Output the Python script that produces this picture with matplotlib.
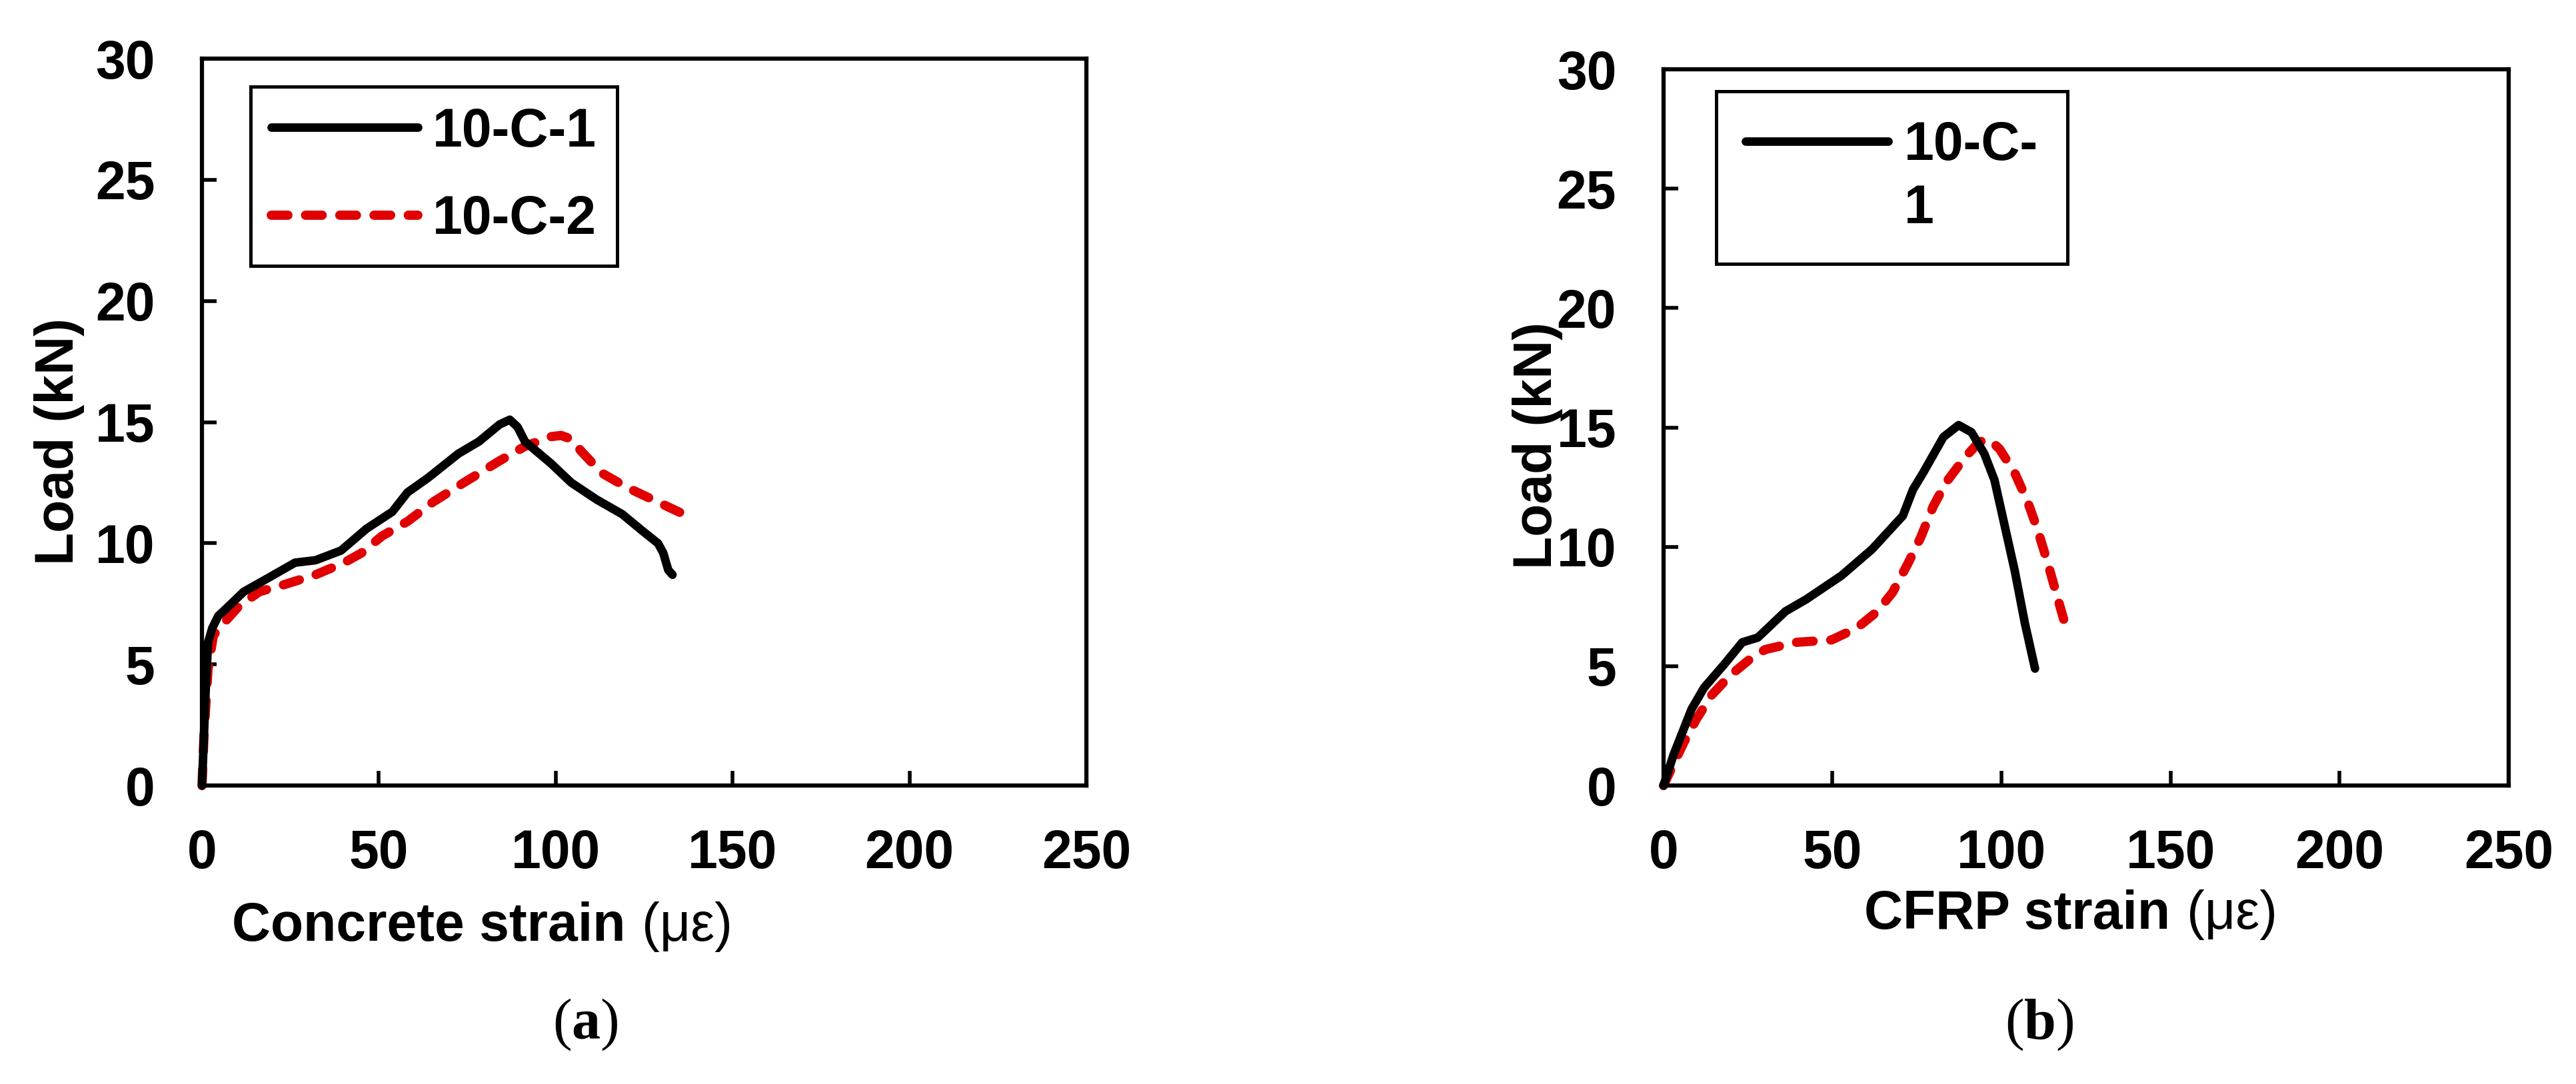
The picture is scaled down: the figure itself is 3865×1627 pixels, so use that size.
import matplotlib
matplotlib.use("Agg")
import matplotlib.pyplot as plt
from matplotlib.lines import Line2D

plt.rcParams["font.family"] = ["Liberation Sans", "DejaVu Sans"]
plt.rcParams["mathtext.fontset"] = "custom"
plt.rcParams["mathtext.bf"] = "Liberation Serif:bold"
plt.rcParams["mathtext.rm"] = "Liberation Serif"

FONT_SIZE = 58
CAPTION_SIZE = 62
COLOR_1 = "black"
COLOR_2 = "#E00000"

# (a) concrete strain
conc_strain_1 = [0, 1.0, 1.7, 2.9, 4.6, 6.8, 11.8, 19.1, 26.3, 32.1, 39.3, 46.5, 53.8, 58.1,
                 63.9, 72.5, 78.3, 84.1, 87.0, 89.2, 91.3, 98.6, 104.4, 111.6, 118.8, 124.6,
                 128.9, 130.4, 131.8, 133.0]
conc_load_1 = [0, 3.8, 5.9, 6.5, 7.0, 7.3, 8.0, 8.6, 9.2, 9.3, 9.7, 10.6, 11.3, 12.1,
               12.7, 13.7, 14.2, 14.9, 15.1, 14.8, 14.2, 13.3, 12.5, 11.8, 11.2, 10.5,
               10.0, 9.6, 8.9, 8.7]
conc_strain_2 = [0, 0.6, 1.7, 3.2, 6.1, 10.4, 16.2, 23.4, 32.1, 40.2, 45.1, 50.9, 58.1,
                 65.3, 74.0, 84.1, 91.3, 98.6, 101.5, 104.4, 107.2, 113.0, 120.2, 128.9, 137.6]
conc_load_2 = [0, 2.2, 4.8, 6.2, 6.7, 7.4, 8.0, 8.3, 8.7, 9.2, 9.6, 10.3, 10.9,
               11.7, 12.5, 13.4, 14.0, 14.4, 14.45, 14.3, 13.8, 12.9, 12.3, 11.7, 11.1]

# (b) CFRP strain
cfrp_strain_1 = [0, 3.0, 8.3, 12.0, 18.1, 23.3, 27.9, 36.1, 42.2, 52.7, 61.7, 70.8, 73.8,
                 76.8, 82.8, 87.3, 91.1, 94.9, 97.9, 100.9, 103.9, 106.9, 109.9]
cfrp_load_1 = [0, 1.3, 3.2, 4.1, 5.1, 6.0, 6.2, 7.3, 7.8, 8.8, 9.9, 11.3, 12.4,
               13.1, 14.6, 15.1, 14.8, 13.9, 12.8, 10.9, 9.0, 6.8, 4.9]
cfrp_strain_2 = [0, 2.3, 6.0, 9.8, 14.3, 19.6, 25.6, 30.1, 39.2, 49.7, 57.2, 63.3, 67.8,
                 72.3, 76.1, 79.8, 83.6, 88.9, 93.4, 96.4, 99.4, 103.9, 107.7, 110.7,
                 113.7, 116.7, 119.7]
cfrp_load_2 = [0, 0.7, 1.8, 2.8, 3.8, 4.6, 5.3, 5.7, 6.0, 6.1, 6.6, 7.3, 8.1,
               9.3, 10.4, 11.7, 12.7, 13.7, 14.4, 14.5, 14.1, 13.1, 11.9, 10.7,
               9.3, 7.8, 6.3]

series_labels = ["10-C-1", "10-C-2"]
legend_b_lines = ["10-C-", "1"]  # legend text wraps in panel (b)

x_ticks = [0, 50, 100, 150, 200, 250]
y_ticks = [0, 5, 10, 15, 20, 25, 30]


def style_axes(ax):
    ax.set_xlim(0, 250)
    ax.set_ylim(0, 30)
    ax.set_xticks(x_ticks)
    ax.set_yticks(y_ticks)
    ax.set_xticklabels([str(t) for t in x_ticks], fontweight="bold", fontsize=FONT_SIZE)
    ax.set_yticklabels([str(t) for t in y_ticks], fontweight="bold", fontsize=FONT_SIZE)
    ax.tick_params(direction="in", length=16, width=4, top=False, right=False)
    ax.tick_params(axis="x", pad=47)
    ax.tick_params(axis="y", pad=51)
    for sp in ax.spines.values():
        sp.set_linewidth(4.5)


def plot_pair(ax, x1, y1, x2, y2):
    l1, = ax.plot(x1, y1, color=COLOR_1, lw=9.2, solid_capstyle="round",
                  solid_joinstyle="round", clip_on=False, zorder=3)
    l2, = ax.plot(x2, y2, color=COLOR_2, lw=10, dashes=(1.8, 1.9),
                  dash_capstyle="round", dash_joinstyle="round", clip_on=False, zorder=2)
    return l1, l2


def add_xlabel(ax, x, y, bold_part):
    t = ax.figure.text(x, y, bold_part, ha="left", va="baseline",
                       fontsize=FONT_SIZE, fontweight="bold")
    ax.annotate("(\u03bc\u03b5)", xy=(1, 0), xycoords=t, xytext=(18, 0),
                textcoords="offset points", ha="left", va="bottom",
                fontsize=FONT_SIZE, fontweight="normal")


def add_caption(fig, x, letter):
    fig.text(x, 0.0412, "(" + r"$\mathbf{" + letter + "}$" + ")", ha="center",
             va="baseline", fontsize=CAPTION_SIZE,
             family=["Liberation Serif", "DejaVu Serif"])


fig = plt.figure(figsize=(38.66, 16.27), dpi=100)
ax_a = fig.add_axes([0.0784, 0.2753, 0.3432, 0.6706])
ax_b = fig.add_axes([0.6456, 0.2753, 0.3280, 0.6607])

# panel (a)
la1, la2 = plot_pair(ax_a, conc_strain_1, conc_load_1, conc_strain_2, conc_load_2)
style_axes(ax_a)
leg_a = ax_a.legend([la1, la2], series_labels, loc="upper left",
                    bbox_to_anchor=(0.055, 0.9615), borderaxespad=0,
                    prop={"weight": "bold", "size": FONT_SIZE},
                    handlelength=2.74, handletextpad=0.27, borderpad=0.38,
                    labelspacing=0.69, fancybox=False, framealpha=1, edgecolor="black")
leg_a.get_frame().set_linewidth(3.6)
fig.text(0.0230, 0.5925, "Load (kN)", rotation=90, ha="center", va="center",
         fontsize=FONT_SIZE, fontweight="bold")
add_xlabel(ax_a, 0.0900, 0.1321, "Concrete strain")

# panel (b)
lb1, lb2 = plot_pair(ax_b, cfrp_strain_1, cfrp_load_1, cfrp_strain_2, cfrp_load_2)
style_axes(ax_b)
blank = Line2D([], [], linestyle="none")
leg_b = ax_b.legend([lb1, blank], legend_b_lines, loc="upper left",
                    bbox_to_anchor=(0.0623, 0.9693), borderaxespad=0,
                    prop={"weight": "bold", "size": FONT_SIZE},
                    handlelength=2.65, handletextpad=0.3, borderpad=0.55,
                    labelspacing=0.23, fancybox=False, framealpha=1, edgecolor="black")
leg_b.get_frame().set_linewidth(3.6)
fig.text(0.5967, 0.5888, "Load (kN)", rotation=90, ha="center", va="center",
         fontsize=FONT_SIZE, fontweight="bold")
add_xlabel(ax_b, 0.7235, 0.1432, "CFRP strain")

# captions
add_caption(fig, 0.2271, "a")
add_caption(fig, 0.7915, "b")

fig.savefig("out.png", dpi=100)
plt.close(fig)
